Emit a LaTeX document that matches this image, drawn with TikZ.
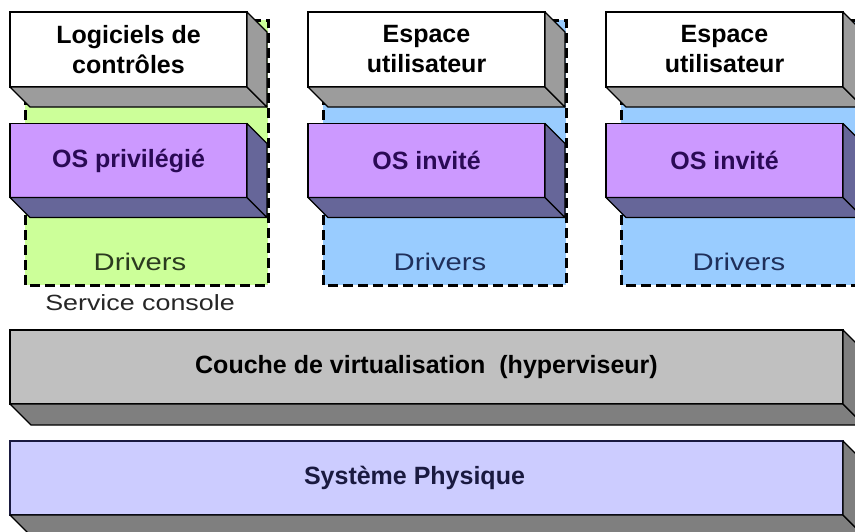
\documentclass[tikz,border=0pt]{standalone}
\usepackage{fontspec}
\setmainfont{Liberation Sans}
\newfontfamily\widefont[FakeStretch=1.22]{Liberation Sans}
\definecolor{greenbg}{HTML}{CCFF99}
\definecolor{bluebg}{HTML}{99CCFF}
\definecolor{purplefront}{HTML}{CC99FF}
\definecolor{purpledepth}{HTML}{666699}
\definecolor{whitedepth}{HTML}{9C9C9C}
\definecolor{hyperfront}{HTML}{C0C0C0}
\definecolor{hyperdepth}{HTML}{7F7F7F}
\definecolor{physfront}{HTML}{CCCCFF}
\definecolor{purpletext}{HTML}{2A0A55}
\definecolor{navytext}{HTML}{1A1A40}
\definecolor{drvgreen}{HTML}{2B3A1F}
\definecolor{drvblue}{HTML}{1F2F5A}
\tikzset{
  frontbox/.style={draw=black, line width=1.3pt, outer sep=0pt, inner sep=0pt,
    minimum width=237pt, minimum height=75pt, align=center,
    font=\bfseries\fontsize{25}{30}\selectfont},
  widebox/.style={frontbox, minimum width=833pt, minimum height=74pt},
  facestyle/.style={draw=black, line width=1.3pt, line join=round},
  vmframe/.style={draw=black, line width=3pt, dash pattern=on 10pt off 5pt},
  drvtext/.style={anchor=base, font=\widefont\fontsize{24}{28}\selectfont},
}
\newcommand{\depthfaces}[3]{%
  \filldraw[facestyle, fill=#2] (#1.south west) -- (#1.south east) -- ++(#3,#3)
     -- ([shift={(#3,#3)}]#1.south west) -- cycle;
  \filldraw[facestyle, fill=#2] (#1.north east) -- ++(#3,#3)
     -- ([shift={(#3,#3)}]#1.south east) -- (#1.south east) -- cycle;
}
\begin{document}
\begin{tikzpicture}[x=1pt, y=-1pt]
\clip (0,0) rectangle (855,531);
\fill[white] (0,0) rectangle (855,531);

% containers
\fill[greenbg] (25,20) rectangle (268,285);
\fill[bluebg] (323,20) rectangle (566,285);
\fill[bluebg] (621,20) rectangle (864,285);
\draw[vmframe] (25,20) rectangle (268,285);
\draw[vmframe] (323,20) rectangle (566,285);
\draw[vmframe] (621,20) rectangle (864,285);

% column 1
\node[frontbox, fill=white] (ctl) at (128.5,49.5) {Logiciels de\\contrôles};
\depthfaces{ctl}{whitedepth}{20}
\node[frontbox, fill=purplefront, text=purpletext, minimum height=74pt] (priv) at (128.5,160.5) {OS privilégié};
\depthfaces{priv}{purpledepth}{20}
\node[drvtext, text=drvgreen] (drv1) at (140,270) {Drivers};
\node[anchor=base, font=\widefont\fontsize{22}{26}\selectfont, text=black!85] (svc) at (140,310) {Service console};

% column 2
\node[frontbox, fill=white] (usr1) at (426.5,49.5) {Espace\\utilisateur};
\depthfaces{usr1}{whitedepth}{20}
\node[frontbox, fill=purplefront, text=purpletext, minimum height=74pt] (os1) at (426.5,160.5) {OS invité};
\depthfaces{os1}{purpledepth}{20}
\node[drvtext, text=drvblue] (drv2) at (440,270) {Drivers};

% column 3
\node[frontbox, fill=white] (usr2) at (724.5,49.5) {Espace\\utilisateur};
\depthfaces{usr2}{whitedepth}{20}
\node[frontbox, fill=purplefront, text=purpletext, minimum height=74pt] (os2) at (724.5,160.5) {OS invité};
\depthfaces{os2}{purpledepth}{20}
\node[drvtext, text=drvblue] (drv3) at (739,270) {Drivers};

% bottom layers
\node[widebox, fill=hyperfront, text=black] (hyp) at (426.5,367) {Couche de virtualisation\ \ (hyperviseur)};
\depthfaces{hyp}{hyperdepth}{21}
\node[widebox, fill=physfront, draw=navytext, text=navytext] (phys) at (426.5,478) {\hspace*{-24pt}Système Physique};
\depthfaces{phys}{hyperdepth}{21}
\end{tikzpicture}
\end{document}
